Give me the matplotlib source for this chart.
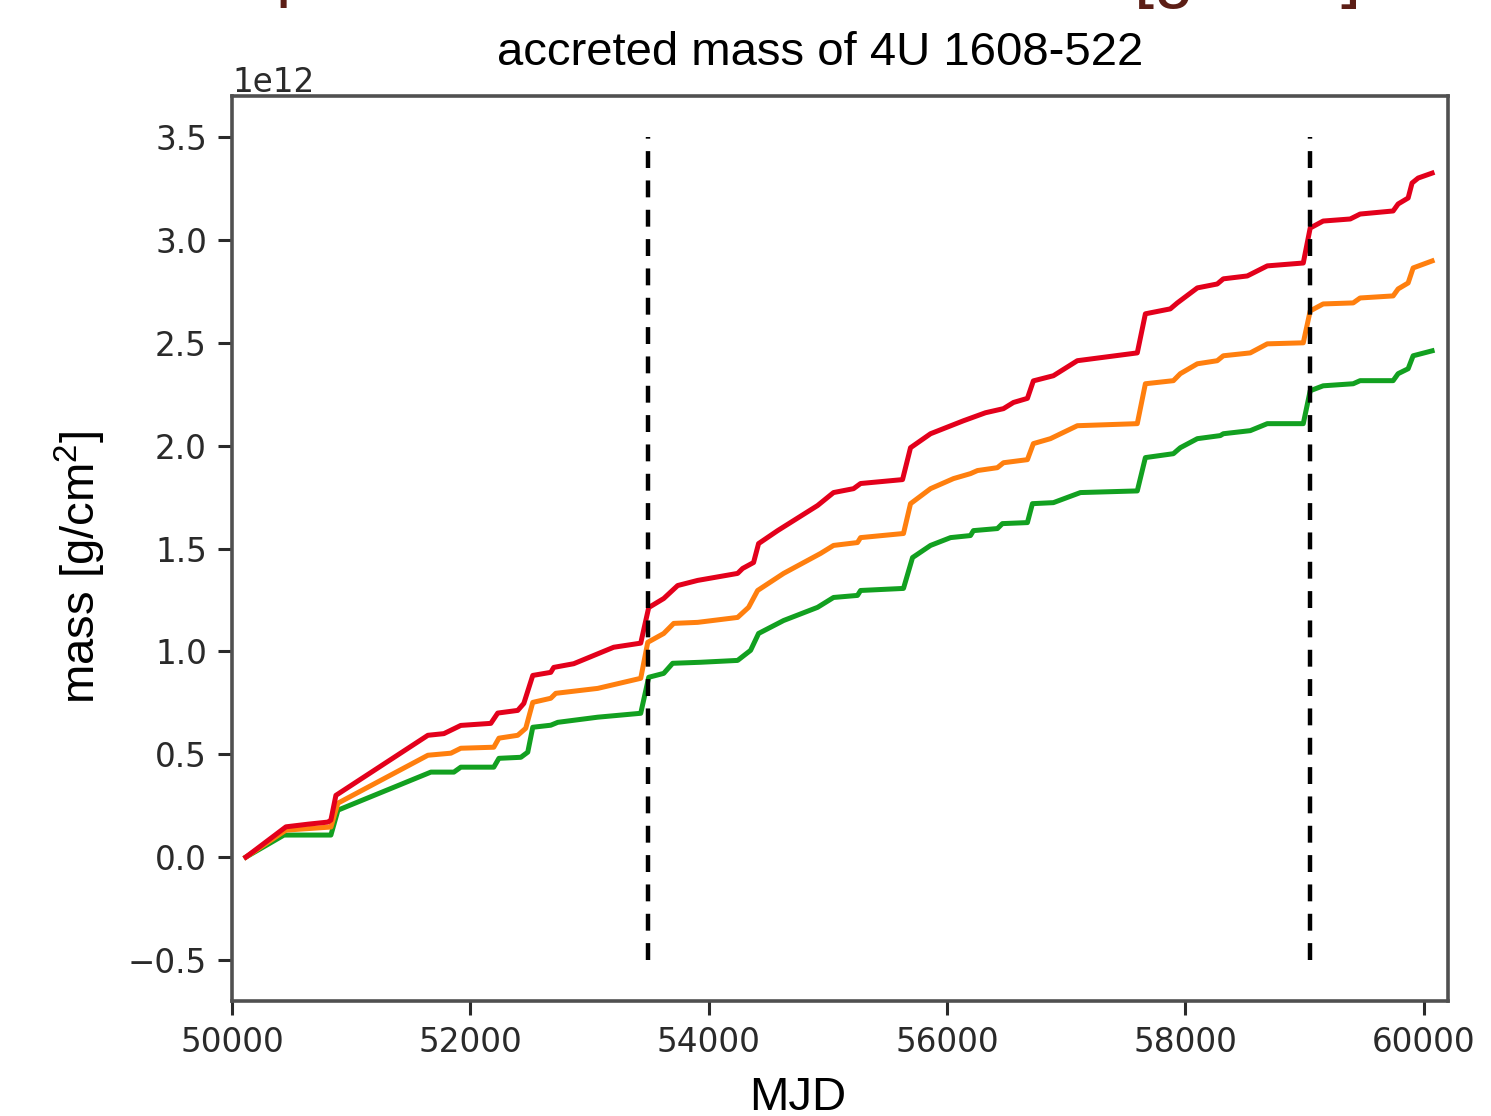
import numpy as np
import matplotlib
matplotlib.use("Agg")
import matplotlib.pyplot as plt

plt.rcParams['mathtext.fontset'] = 'custom'
plt.rcParams['mathtext.rm'] = 'Liberation Sans'
plt.rcParams['mathtext.it'] = 'Liberation Sans'

# accreted mass curves (in units of 1e12 g/cm^2)
mjd_red = [50117, 50453, 50640, 50805, 50830, 50872, 51644, 51778, 51920, 52172,
           52230, 52398, 52449, 52524, 52675, 52700, 52868, 53203, 53430, 53497,
           53623, 53740, 53908, 54243, 54285, 54377, 54419, 54579, 54914, 55048,
           55216, 55275, 55627, 55694, 55862, 56138, 56323, 56474, 56558, 56675,
           56725, 56893, 57094, 57597, 57665, 57874, 57933, 58101, 58268, 58319,
           58520, 58688, 58990, 59048, 59157, 59384, 59467, 59744, 59786, 59870,
           59903, 59954, 60071]
mass_red = [0.0, 0.147, 0.16, 0.17, 0.18, 0.30, 0.592, 0.60, 0.64, 0.65,
            0.70, 0.713, 0.747, 0.883, 0.898, 0.922, 0.94, 1.02, 1.04, 1.213,
            1.257, 1.32, 1.345, 1.379, 1.403, 1.432, 1.524, 1.587, 1.709, 1.772,
            1.791, 1.816, 1.835, 1.99, 2.058, 2.121, 2.16, 2.18, 2.21, 2.23,
            2.315, 2.34, 2.413, 2.451, 2.641, 2.665, 2.694, 2.767, 2.786, 2.811,
            2.825, 2.874, 2.888, 3.058, 3.092, 3.102, 3.126, 3.141, 3.175, 3.204,
            3.277, 3.301, 3.325]

mjd_orange = [50117, 50453, 50830, 50889, 51644, 51837, 51920, 52197, 52240, 52398,
              52465, 52524, 52675, 52717, 53069, 53430, 53489, 53623, 53707, 53908,
              54243, 54335, 54411, 54629, 54939, 55048, 55249, 55275, 55635, 55694,
              55862, 56055, 56197, 56256, 56423, 56474, 56675, 56725, 56868, 57094,
              57597, 57665, 57900, 57958, 58101, 58268, 58319, 58545, 58688, 58990,
              59048, 59157, 59409, 59467, 59744, 59786, 59870, 59912, 60071]
mass_orange = [0.0, 0.131, 0.146, 0.262, 0.495, 0.505, 0.529, 0.534, 0.578, 0.592,
               0.626, 0.752, 0.772, 0.796, 0.82, 0.869, 1.044, 1.087, 1.136, 1.141,
               1.165, 1.214, 1.296, 1.379, 1.476, 1.515, 1.529, 1.553, 1.573, 1.718,
               1.791, 1.84, 1.864, 1.879, 1.893, 1.917, 1.932, 2.01, 2.034, 2.097,
               2.107, 2.301, 2.316, 2.35, 2.398, 2.413, 2.437, 2.451, 2.495, 2.5,
               2.655, 2.689, 2.694, 2.718, 2.728, 2.762, 2.791, 2.864, 2.898]

mjd_green = [50117, 50436, 50830, 50889, 51669, 51862, 51920, 52197, 52240, 52424,
             52482, 52524, 52675, 52734, 53069, 53430, 53497, 53623, 53698, 53933,
             54243, 54352, 54419, 54629, 54914, 55048, 55249, 55275, 55635, 55711,
             55862, 56030, 56197, 56222, 56423, 56465, 56675, 56717, 56893, 57120,
             57597, 57665, 57900, 57958, 58101, 58294, 58319, 58545, 58688, 58990,
             59048, 59157, 59409, 59467, 59744, 59786, 59870, 59912, 60071]
mass_green = [0.0, 0.107, 0.107, 0.228, 0.413, 0.413, 0.437, 0.437, 0.48, 0.485,
              0.51, 0.631, 0.641, 0.655, 0.68, 0.699, 0.874, 0.893, 0.942, 0.947,
              0.956, 1.005, 1.087, 1.15, 1.214, 1.262, 1.272, 1.296, 1.306, 1.456,
              1.515, 1.553, 1.563, 1.587, 1.597, 1.621, 1.626, 1.718, 1.723, 1.772,
              1.78, 1.942, 1.961, 1.99, 2.034, 2.049, 2.058, 2.073, 2.107, 2.107,
              2.267, 2.291, 2.301, 2.316, 2.316, 2.35, 2.374, 2.437, 2.461]

outbursts = [53490, 59048]   # dashed markers
scale = 1e12

fig = plt.figure(figsize=(14.91, 11.16), dpi=100)
ax = fig.add_axes([0.1556, 0.103, 0.8156, 0.811])

ax.plot(mjd_green, np.array(mass_green) * scale, color='#12a020', lw=3.6)
ax.plot(mjd_orange, np.array(mass_orange) * scale, color='#ff7f0e', lw=3.6)
ax.plot(mjd_red, np.array(mass_red) * scale, color='#e3001b', lw=3.6)
ax.vlines(outbursts, -0.5 * scale, 3.5 * scale, colors='k', lw=3.2,
          linestyles=(0, (3.8, 2.8)))

ax.set_xlim(50000, 60205)
ax.set_ylim(-0.7 * scale, 3.7 * scale)
ax.set_xticks([50000, 52000, 54000, 56000, 58000, 60000])
ax.set_yticks(np.arange(-0.5, 3.6, 0.5) * scale)
ax.tick_params(labelsize=23.5, length=10, width=2.2, pad=8, colors='#2a2a2a')
ax.yaxis.get_offset_text().set_fontsize(23.5)
ax.yaxis.get_offset_text().set_color('#2a2a2a')
for s in ax.spines.values():
    s.set_linewidth(2.6)
    s.set_color('#505050')

sans = ['Liberation Sans', 'DejaVu Sans']
fig.text(820 / 1491, 1 - 65 / 1116, 'accreted mass of 4U 1608-522',
         ha='center', va='baseline', fontsize=34, family=sans)
fig.text(80 / 1491, 1 - 567 / 1116, 'mass [g/cm$^2$]', rotation=90,
         ha='center', va='center', fontsize=34, family=sans)
fig.text(798 / 1491, 1 - 1110 / 1116, 'MJD', ha='center', va='baseline',
         fontsize=34, family=sans)

# slide heading cut off at the top of the screenshot
fig.text(276 / 1491, 1 + 6 / 1116, 'p', ha='left', va='baseline',
         fontsize=50, family=sans, color='#5c1e16')
fig.text(1357 / 1491, 1 + 6 / 1116, '[g/cm$^2$]', ha='right', va='baseline',
         fontsize=52, family=sans, color='#5c1e16')

fig.savefig('out.png', dpi=100)
